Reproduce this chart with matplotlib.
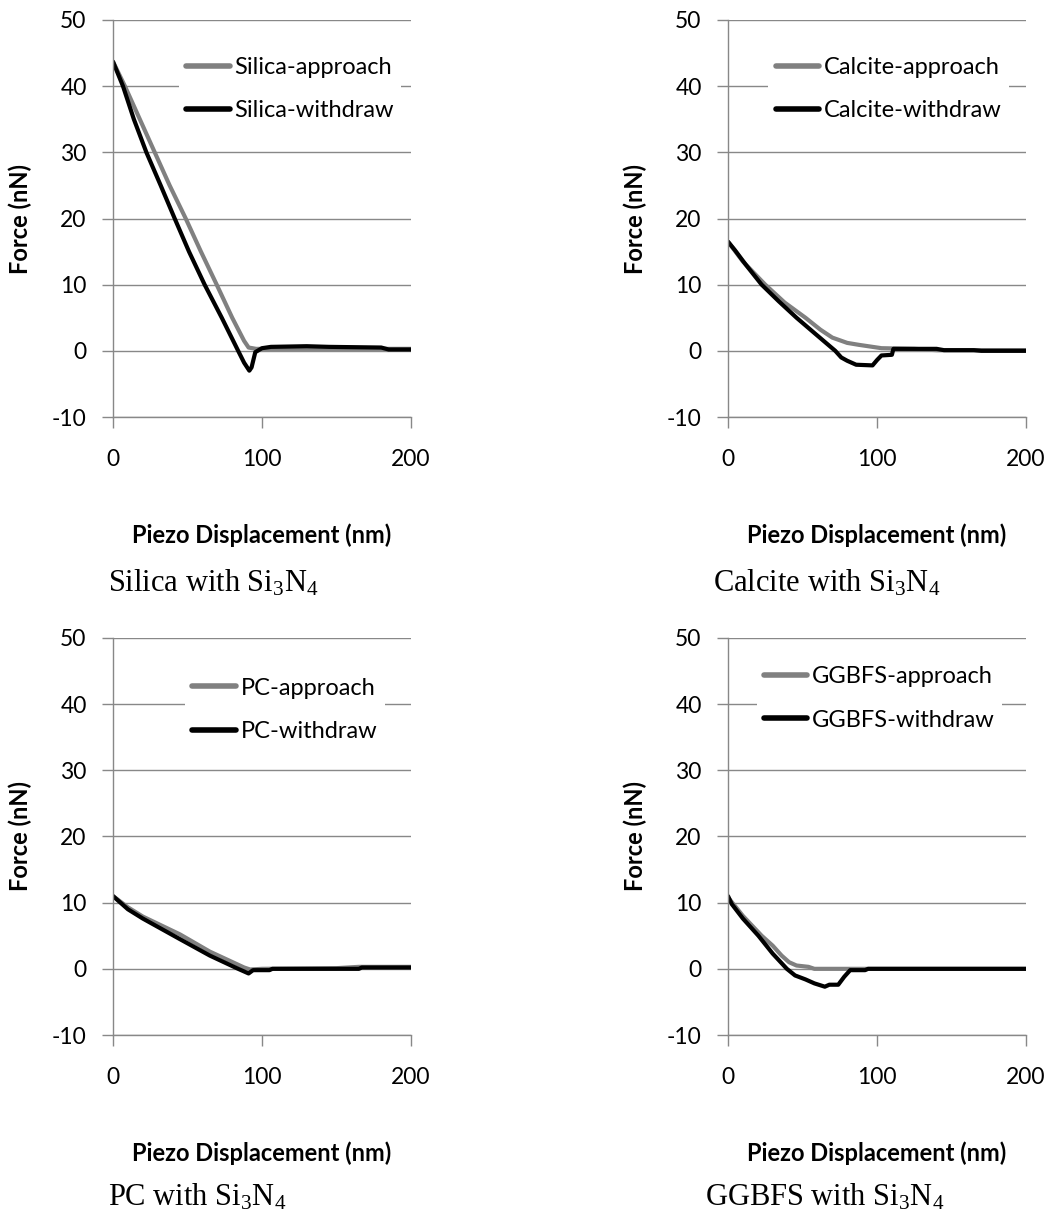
import numpy as np
import matplotlib
matplotlib.use('Agg')
import matplotlib.pyplot as plt

plt.rcParams['font.family'] = ['Lato', 'DejaVu Sans']
plt.rcParams['axes.unicode_minus'] = False
plt.rcParams['mathtext.fontset'] = 'custom'
plt.rcParams['mathtext.rm'] = 'Liberation Serif'
plt.rcParams['mathtext.it'] = 'Liberation Serif'

# Silica
silica_app_x = [0, 8, 18, 28, 38, 48.8, 59, 69.6, 80, 88, 91, 96, 120, 150, 180, 200]
silica_app_y = [43.7, 40, 35, 30, 25, 20, 15, 10, 5, 1.5, 0.5, 0.3, 0.3, 0.3, 0.3, 0.3]
silica_wd_x = [0, 6.7, 14, 22.4, 32, 41.4, 51, 61.5, 73, 84, 88, 91.5, 93, 95.5, 100, 106, 130, 145, 180, 185, 200]
silica_wd_y = [43.7, 40, 35, 30, 25, 20, 15, 10, 5, 0, -1.8, -3, -2.5, -0.2, 0.4, 0.6, 0.7, 0.6, 0.5, 0.2, 0.2]

# Calcite
calcite_app_x = [0, 10, 25, 38, 52, 62, 70, 80, 88, 103, 125, 140, 200]
calcite_app_y = [16.5, 13.5, 10, 7.3, 5, 3.2, 2, 1.2, 0.9, 0.4, 0.3, 0.1, 0.1]
calcite_wd_x = [0, 4.7, 12, 22.6, 34, 46, 60, 72, 76, 80, 86, 97, 100, 103, 110, 111, 140, 145, 165, 170, 200]
calcite_wd_y = [16.5, 15.2, 13, 10, 7.5, 5, 2.3, 0, -1, -1.5, -2.1, -2.2, -1.4, -0.7, -0.6, 0.3, 0.3, 0.1, 0.1, 0, 0]

# PC
pc_app_x = [0, 10, 20, 45, 65, 88, 92, 100, 150, 165, 200]
pc_app_y = [11, 9.3, 7.9, 5.2, 2.6, 0.2, -0.1, 0, 0.1, 0.3, 0.3]
pc_wd_x = [0, 10, 20, 44, 65, 84, 91, 94, 105, 107, 165, 167, 200]
pc_wd_y = [11, 9, 7.6, 4.6, 2, 0, -0.7, -0.2, -0.2, 0, 0, 0.2, 0.2]

# GGBFS
ggbfs_app_x = [0, 10, 22.6, 30, 36, 41, 46, 54, 58, 200]
ggbfs_app_y = [10.8, 8, 5, 3.5, 2, 1, 0.5, 0.3, 0, 0]
ggbfs_wd_x = [0, 2.5, 10, 20.4, 30, 39.5, 45, 52, 58, 65, 68, 74, 78, 82, 92, 94, 200]
ggbfs_wd_y = [11, 9.8, 7.6, 5, 2.3, 0, -1, -1.6, -2.2, -2.7, -2.4, -2.4, -1.2, -0.2, -0.2, 0, 0]

panels = [
    ('Silica', silica_app_x, silica_app_y, silica_wd_x, silica_wd_y, [113, 20], (0.594, 0.826)),
    ('Calcite', calcite_app_x, calcite_app_y, calcite_wd_x, calcite_wd_y, [728, 20], (0.539, 0.826)),
    ('PC', pc_app_x, pc_app_y, pc_wd_x, pc_wd_y, [113, 638], (0.577, 0.819)),
    ('GGBFS', ggbfs_app_x, ggbfs_app_y, ggbfs_wd_x, ggbfs_wd_y, [728, 638], (0.508, 0.848)),
]

W, H = 1050, 1214
fig = plt.figure(figsize=(W / 100, H / 100), dpi=100)
grid_col = '#888888'

for name, ax_x, ax_y, wx, wy, (px, py), leg_c in panels:
    ax = fig.add_axes([px / W, 1 - (py + 397) / H, 298 / W, 397 / H])
    ax.plot(ax_x, ax_y, color='#808080', lw=3, label=name + '-approach', solid_capstyle='round')
    ax.plot(wx, wy, color='black', lw=3, label=name + '-withdraw', solid_capstyle='round')
    ax.set_xlim(0, 200)
    ax.set_ylim(-10, 50)
    ax.set_xticks([0, 100, 200])
    ax.set_yticks([-10, 0, 10, 20, 30, 40, 50])
    ax.yaxis.grid(True, color=grid_col, lw=1)
    ax.set_axisbelow(True)
    for s in ['top', 'right']:
        ax.spines[s].set_visible(False)
    for s in ['left', 'bottom']:
        ax.spines[s].set_color(grid_col)
        ax.spines[s].set_linewidth(1)
    ax.tick_params(axis='both', colors=grid_col, length=8, width=1, labelsize=16.5, labelcolor='black')
    ax.tick_params(axis='x', pad=15)
    ax.tick_params(axis='y', pad=11)
    ax.set_xlabel('Piezo Displacement (nm)', fontsize=17, fontweight='bold')
    ax.set_ylabel('Force (nN)', fontsize=17, fontweight='bold')
    ax.xaxis.set_label_coords(0.5, -0.297)
    ax.xaxis.label.set_va('center')
    ax.yaxis.set_label_coords(-0.31, 0.5)
    ax.yaxis.label.set_va('center')
    leg = ax.legend(loc='center', bbox_to_anchor=leg_c, fontsize=17, frameon=True,
                    facecolor='white', edgecolor='none', framealpha=1, handlelength=1.85,
                    handletextpad=0.2, labelspacing=0.95, borderpad=0.3, fancybox=False)
    for line in leg.get_lines():
        line.set_linewidth(4)

captions = [
    (108, 592, r'Silica with $\mathrm{Si_3N_4}$'),
    (713, 592, r'Calcite with $\mathrm{Si_3N_4}$'),
    (108, 1205, r'PC with $\mathrm{Si_3N_4}$'),
    (705, 1205, r'GGBFS with $\mathrm{Si_3N_4}$'),
]
for cx, cy, txt in captions:
    fig.text(cx / W, 1 - cy / H, txt, fontsize=22, family='Liberation Serif', va='baseline', ha='left')

fig.savefig('out.png', dpi=100)
